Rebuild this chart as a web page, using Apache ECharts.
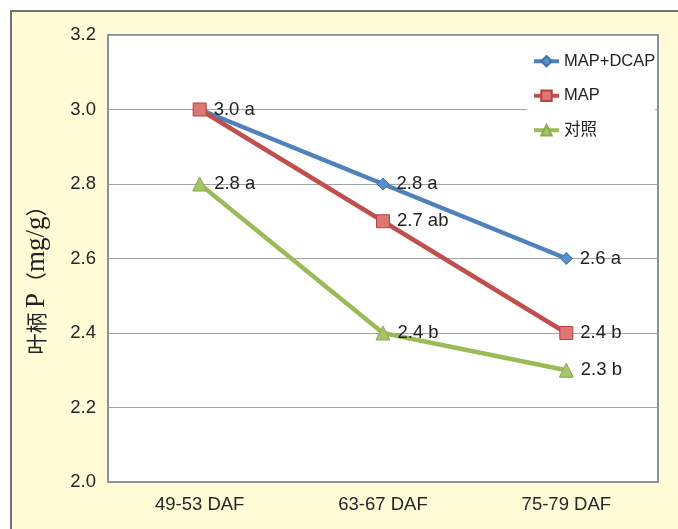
<!DOCTYPE html>
<html><head><meta charset="utf-8">
<script src="https://cdn.jsdelivr.net/npm/echarts@6/dist/echarts.min.js"></script>
<style>
html,body{margin:0;padding:0;background:#fff;}
#frame{position:absolute;left:10px;top:10px;width:700px;height:600px;background:#FFFBD6;border:2px solid #707070;box-sizing:border-box;}
#c{position:absolute;left:0;top:0;width:678px;height:529px;}
</style></head>
<body><div id="frame"></div><div id="c"></div>
<script>
var categories = ['49-53 DAF', '63-67 DAF', '75-79 DAF'];
var seriesNames = ['MAP+DCAP', 'MAP', '对照'];
var mapDcap = [3.0, 2.8, 2.6];
var mapOnly = [3.0, 2.7, 2.4];
var control = [2.8, 2.4, 2.3];
var mapDcapLabels = ['', '2.8 a', '2.6 a'];
var mapLabels = ['3.0 a', '2.7 ab', '2.4 b'];
var controlLabels = ['2.8 a', '2.4 b', '2.3 b'];
var yTicks = [2.0, 2.2, 2.4, 2.6, 2.8, 3.0, 3.2];

var font = "'Liberation Sans', Arial, 'Noto Sans CJK SC', sans-serif";
function mk(vals, labels) {
  return vals.map(function (v, i) { return { value: v, label: { formatter: labels[i] } }; });
}
var lbl = { show: true, position: 'right', distance: 7, fontSize: 18.5, color: '#222' };
var chart = echarts.init(document.getElementById('c'));
chart.setOption({
  backgroundColor: 'transparent',
  animation: false,
  textStyle: { fontFamily: font },
  grid: { left: 108, top: 35, right: 20, bottom: 47, show: true, backgroundColor: '#fff', borderColor: '#8f8f99', borderWidth: 2 },
  legend: {
    orient: 'vertical', left: 527, top: 50, padding: [3, 0, 3, 5],
    backgroundColor: '#fff', itemWidth: 25, itemHeight: 13, itemGap: 18,
    lineStyle: { width: 4 },
    textStyle: { fontSize: 16.5, color: '#222', fontFamily: font },
    data: seriesNames
  },
  xAxis: {
    type: 'category', data: categories, boundaryGap: true,
    axisLine: { lineStyle: { color: '#8f8f99', width: 2 } },
    axisTick: { show: false },
    axisLabel: { fontSize: 18.5, color: '#262626', margin: 14 },
    splitLine: { show: false }
  },
  yAxis: {
    type: 'value', min: 2.0, max: 3.2, interval: 0.2,
    name: '{a|叶柄 }{b|P}{a|（}{b|mg/g}{a|）}', nameLocation: 'middle', nameGap: 58,
    nameTextStyle: {
      color: '#222', padding: [0, 33, 0, 0],
      rich: {
        a: { fontSize: 21, color: '#222', fontFamily: "'Noto Sans CJK SC', sans-serif" },
        b: { fontSize: 27, color: '#222', fontFamily: "'Liberation Serif', 'DejaVu Serif', serif" }
      }
    },
    axisLine: { show: true, lineStyle: { color: '#8f8f99', width: 2 } },
    axisTick: { show: false },
    axisLabel: { fontSize: 18.5, color: '#262626', margin: 12, formatter: function (v) { return v.toFixed(1); } },
    splitLine: { lineStyle: { color: '#a3a3a3', width: 1 } }
  },
  series: [
    {
      name: seriesNames[0], type: 'line', data: mk(mapDcap, mapDcapLabels),
      symbol: 'diamond', symbolSize: 12,
      lineStyle: { color: '#4F81BD', width: 4.5 },
      itemStyle: { color: '#5B8FCC', borderColor: '#3E6FA8', borderWidth: 1 },
      label: lbl
    },
    {
      name: seriesNames[1], type: 'line', data: mk(mapOnly, mapLabels),
      symbol: 'rect', symbolSize: 13,
      lineStyle: { color: '#C0504D', width: 4.5 },
      itemStyle: { color: '#DC7774', borderColor: '#B9413E', borderWidth: 1 },
      label: lbl
    },
    {
      name: seriesNames[2], type: 'line', data: mk(control, controlLabels),
      symbol: 'triangle', symbolSize: 14,
      lineStyle: { color: '#9BBB59', width: 4.5 },
      itemStyle: { color: '#A6C56A', borderColor: '#8BAA4B', borderWidth: 1 },
      label: lbl
    }
  ]
});
</script></body></html>
